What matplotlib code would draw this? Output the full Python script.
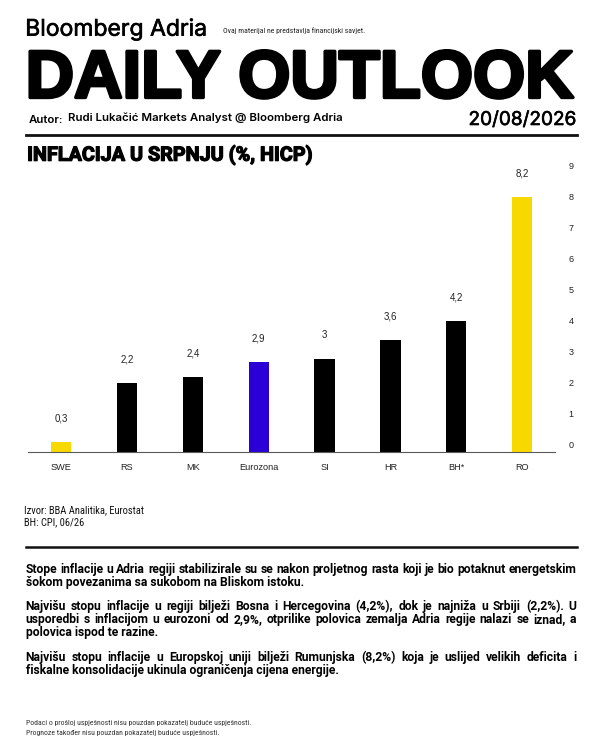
import matplotlib
matplotlib.use('Agg')
import matplotlib.pyplot as plt
from matplotlib import font_manager as fm
from matplotlib import patheffects as pe
from matplotlib.lines import Line2D
from matplotlib.transforms import ScaledTranslation
import numpy as np

# ---------------- data ----------------
categories = ['SWE', 'RS', 'MK', 'Eurozona', 'SI', 'HR', 'BH*', 'RO']
values = [0.3, 2.2, 2.4, 2.9, 3.0, 3.6, 4.2, 8.2]
bar_colors = ['#F7D900', '#000000', '#000000', '#2A00D6',
              '#000000', '#000000', '#000000', '#F7D900']
y_ticks = [0, 1, 2, 3, 4, 5, 6, 7, 8, 9]

brand = 'Bloomberg Adria'
disclaimer = 'Ovaj materijal ne predstavlja financijski savjet.'
headline = 'DAILY OUTLOOK'
author_lbl = 'Autor:'
author = 'Rudi Lukačić Markets Analyst @ Bloomberg Adria'
date_str = '20/08/2026'
chart_title = 'INFLACIJA U SRPNJU (%, HICP)'
source_lines = ['Izvor: BBA Analitika, Eurostat', 'BH: CPI, 06/26']
paragraphs = [
    ['Stope inflacije u Adria regiji stabilizirale su se nakon proljetnog rasta koji je bio potaknut energetskim',
     'šokom povezanima sa sukobom na Bliskom istoku.'],
    ['Najvišu stopu inflacije u regiji bilježi Bosna i Hercegovina (4,2%), dok je najniža u Srbiji (2,2%). U',
     'usporedbi s inflacijom u eurozoni od 2,9%, otprilike polovica zemalja Adria regije nalazi se iznad, a',
     'polovica ispod te razine.'],
    ['Najvišu stopu inflacije u Europskoj uniji bilježi Rumunjska (8,2%) koja je uslijed velikih deficita i',
     'fiskalne konsolidacije ukinula ograničenja cijena energije.'],
]
footer_lines = ['Podaci o prošloj uspješnosti nisu pouzdan pokazatelj buduće uspješnosti.',
                'Prognoze također nisu pouzdan pokazatelj buduće uspješnosti.']

# ---------------- fonts ----------------
names = {f.name for f in fm.fontManager.ttflist}
SANS = 'Liberation Sans' if 'Liberation Sans' in names else 'DejaVu Sans'
INTER = 'Inter' if 'Inter' in names else SANS
BODY = 'Roboto' if 'Roboto' in names else SANS

COND, COND_STRETCH = SANS, 'normal'
for cand in ['Liberation Sans Narrow', 'Roboto Condensed', 'Open Sans Condensed',
             'Arial Narrow', 'Nimbus Sans Narrow']:
    if cand in names:
        COND = cand
        break
else:
    if any(f.name == 'DejaVu Sans' and str(f.stretch) in ('condensed', 'semi-condensed')
           for f in fm.fontManager.ttflist):
        COND, COND_STRETCH = 'DejaVu Sans', 'condensed'

W, H = 600, 750
fig = plt.figure(figsize=(6, 7.5), dpi=100)
fig.patch.set_facecolor('white')
R = fig.canvas.get_renderer()


def fx(x):
    return x / W


def fy(y):
    return 1 - y / H


def fit(x, y, s, width, family, weight='normal', va='baseline', ha='left',
        color='black', stretch='normal', **kw):
    t = fig.text(fx(x), fy(y), s, fontsize=10, family=family, weight=weight,
                 va=va, ha=ha, color=color, fontstretch=stretch, **kw)
    for _ in range(3):
        w = t.get_window_extent(R).width
        t.set_fontsize(t.get_fontsize() * width / w)
    return t


def text_w(s, size, family, weight, stretch='normal'):
    t = fig.text(0, 0, s, fontsize=size, family=family, weight=weight,
                 fontstretch=stretch)
    w = t.get_window_extent(R).width
    t.remove()
    return w


thick = [pe.withStroke(linewidth=0.45, foreground='black')]

# ---------------- header ----------------
fit(25.2, 35.7, brand, 181.4, INTER, path_effects=thick)
fit(222.7, 33, disclaimer, 140.6, COND, stretch=COND_STRETCH, color='#222222')
stroke = 2.4
fit(24 + 1.6, 97.5, headline, 552 - 3.3, SANS, weight='bold',
    path_effects=[pe.withStroke(linewidth=stroke, foreground='black')])
fit(28.3, 123.0, author_lbl, 34.3, INTER, weight='semibold')
fit(68.3, 121.3, author, 274.4, INTER, weight='semibold')
fit(468.5, 125.0, date_str, 107.4, INTER, path_effects=thick)
fig.add_artist(Line2D([fx(26), fx(576.7)], [fy(135), fy(135)], lw=2.0, color='#111111'))
fit(26.7 + 0.45, 160.7, chart_title, 285 - 0.9, BODY, weight='bold',
    path_effects=[pe.withStroke(linewidth=0.9, foreground='black')])

# ---------------- chart ----------------
ax = fig.add_axes([fx(28.3), fy(451.7), (555 - 28.3) / W, 279.3 / H])
x = np.arange(len(categories))
ax.bar(x, values, width=0.31, color=bar_colors, edgecolor='none')
ax.set_xlim(-0.5, len(categories) - 0.5)
ax.set_ylim(0, 9)
for sp in ['top', 'right', 'left']:
    ax.spines[sp].set_visible(False)
ax.spines['bottom'].set_color('#5a5a5a')
ax.spines['bottom'].set_linewidth(0.8)
ax.set_yticks([])
ax.set_xticks(x, categories)
ax.tick_params(axis='x', length=0, pad=8, labelsize=6.6, labelcolor='#222222')
for lbl in ax.get_xticklabels():
    lbl.set_family(SANS)
ax.set_facecolor('none')

for xi, v in zip(x, values):
    ax.annotate(f'{v:g}'.replace('.', ','), (xi, v), xytext=(0, 17),
                textcoords='offset points', ha='center', va='center',
                fontsize=7, family=SANS, color='#222222')

ytrans = ax.get_yaxis_transform() + ScaledTranslation(0, 2.4 / 72, fig.dpi_scale_trans)
for t in y_ticks:
    ax.text(1.031, t, str(t), transform=ytrans, ha='center', va='baseline',
            fontsize=6.5, family=SANS, color='#222222')

# ---------------- source ----------------
src = fit(24, 513.5, source_lines[0], 120, COND, stretch=COND_STRETCH, color='#111111')
fig.text(fx(24), fy(525.1), source_lines[1], fontsize=src.get_fontsize(),
         family=COND, fontstretch=COND_STRETCH, color='#111111', va='baseline')

fig.add_artist(Line2D([fx(26), fx(576.7)], [fy(547.3), fy(547.3)], lw=1.8, color='#111111'))

# ---------------- body ----------------
x0, x1 = 25.5, 576.5
bw = 'bold'
nat = text_w(paragraphs[0][0], 10, BODY, bw)
bsize = 10 * (x1 - x0) / nat
nat = text_w(paragraphs[0][0], bsize, BODY, bw)
bsize *= (x1 - x0) / nat

baselines = [[573, 586], [610, 623, 636], [661, 674]]
for para, ys in zip(paragraphs, baselines):
    for i, (line, yb) in enumerate(zip(para, ys)):
        last = (i == len(para) - 1)
        if last:
            fig.text(fx(x0), fy(yb), line, fontsize=bsize, family=BODY,
                     weight=bw, va='baseline', color='black')
        else:
            words = line.split(' ')
            total = text_w(line, bsize, BODY, bw)
            extra = (x1 - x0 - total) / (len(words) - 1)
            for k, wd in enumerate(words):
                pre = text_w(' '.join(words[:k + 1]), bsize, BODY, bw)
                start = pre - text_w(wd, bsize, BODY, bw)
                fig.text(fx(x0 + start + k * extra), fy(yb), wd, fontsize=bsize,
                         family=BODY, weight=bw, va='baseline', color='black')

# ---------------- footer ----------------
f1 = fit(26, 725.5, footer_lines[0], 227, COND, stretch=COND_STRETCH, color='#333333')
fig.text(fx(26), fy(734.5), footer_lines[1], fontsize=f1.get_fontsize(),
         family=COND, fontstretch=COND_STRETCH, color='#333333', va='baseline')

fig.savefig('out.png', dpi=100, facecolor='white')
